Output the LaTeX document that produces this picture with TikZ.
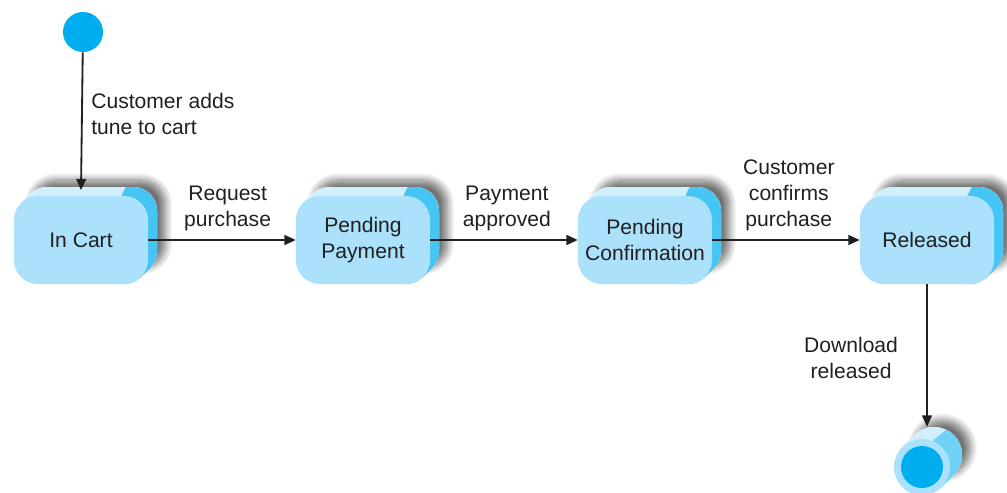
\documentclass[tikz,border=0pt]{standalone}
\usepackage{fontspec}
\setmainfont{Liberation Sans}
\usetikzlibrary{arrows.meta, shadows.blur, calc, math}
\definecolor{stfront}{RGB}{171,225,250}
\definecolor{sttop}{RGB}{210,239,252}
\definecolor{stside}{RGB}{69,197,243}
\definecolor{stdot}{RGB}{0,174,239}
\definecolor{txtgray}{RGB}{35,31,32}

\tikzset{
  statebox/.style={fill=stfront, rounded corners=0.6cm, minimum width=3.35cm,
    minimum height=2.2cm, align=center, text=txtgray, inner sep=0pt},
  lbl/.style={align=center, text=txtgray, inner sep=2pt},
  flow/.style={draw=txtgray, line width=1.3pt, -{Triangle[length=8pt,width=7pt]}},
  backshadow/.style={blur shadow={shadow xshift=6pt, shadow yshift=5pt,
    shadow blur steps=10, shadow blur radius=5pt, shadow opacity=55}},
}

\begin{document}
\begin{tikzpicture}[x=0.025cm, y=-0.025cm,
  font=\fontsize{15pt}{18.4pt}\selectfont]
\useasboundingbox (0,0) rectangle (1007,493);

% back of the states: shadow, top face, right side
\foreach \cx in {81,363,645,927}{
  \tikzmath{\xa = \cx-67; \xb = \cx+67; \ya = 196; \yb = 284;}
  \fill[white, rounded corners=0.6cm, backshadow]
    (\xa+9,\ya-9) rectangle (\xb+9,\yb-9);
  \foreach \k in {0,...,9}
    \fill[sttop, rounded corners=0.6cm] (\xa+\k,\ya-\k) rectangle (\xb+\k,\yb-\k);
  \begin{scope}
    \clip (\xb-28,\ya+4) -- (\xb-20,\ya-14) -- (\xb+30,\ya-14) -- (\xb+30,\yb+30) -- (\xb-30,\yb+30) -- cycle;
    \foreach \k in {0,...,9}
      \fill[stside, rounded corners=0.6cm] (\xa+\k,\ya-\k) rectangle (\xb+\k,\yb-\k);
  \end{scope}
}

% states
\node[statebox] (cart) at (81,240) {In Cart};
\node[statebox] (pay) at (363,240) {Pending\\Payment};
\node[statebox] (conf) at (645,240) {Pending\\Confirmation};
\node[statebox] (rel) at (927,240) {Released};

% initial and final
\node[circle, fill=stdot, minimum size=1cm, inner sep=0pt] (init) at (83,32) {};

\fill[white, backshadow] (934,455) circle (28);
\foreach \k in {0,...,12}
  \fill[sttop] (922+\k,467-\k) circle (28);
\begin{scope}
  \clip (932,442) -- (958,420) -- (1007,420) -- (1007,493) -- (900,493) -- cycle;
  \foreach \k in {0,...,12}
    \fill[stside!70!sttop] (922+\k,467-\k) circle (28);
\end{scope}
\node[circle, fill=stfront, minimum size=1.4cm, inner sep=0pt] (final) at (922,467) {};
\fill[stdot] (final.center) circle (21);

% transitions
\draw[flow] (init) -- ([yshift=4pt]cart.north)
  node[lbl, align=left, pos=0.45, anchor=west, xshift=4pt] {Customer adds\\tune to cart};
\draw[flow] (cart.east) -- (pay.west)
  node[lbl, midway, above, xshift=4pt, yshift=4pt] {Request\\purchase};
\draw[flow] (pay.east) -- (conf.west)
  node[lbl, midway, above, xshift=2pt, yshift=4pt] {Payment\\approved};
\draw[flow] (conf.east) -- (rel.west)
  node[lbl, midway, above, xshift=2pt, yshift=4pt] {Customer\\confirms\\purchase};
\draw[flow] (rel.south) -- ($(final.north)+(5,-12)$)
  node[lbl, midway, left, xshift=-18pt, yshift=-2pt] {Download\\released};

\end{tikzpicture}
\end{document}
